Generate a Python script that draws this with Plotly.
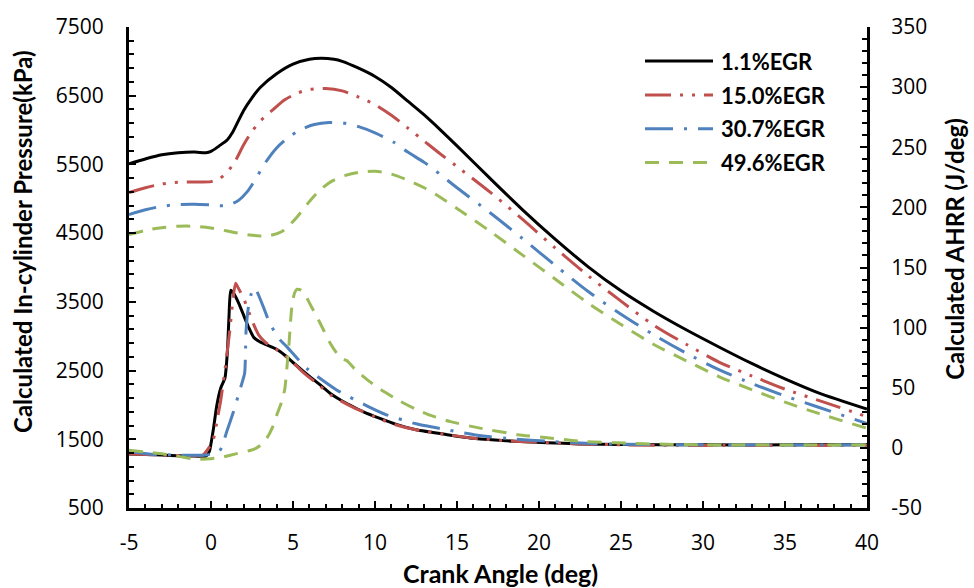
import plotly.graph_objects as go

# ---- Crank angle grids and in-cylinder pressure (kPa) ----
ca_p_01 = [-5, -4, -3, -2, -1, -0.3, 0, 0.5, 1, 1.3, 2, 2.5, 3, 4, 5, 6, 6.7, 7.5, 8, 9, 10,
           11, 12, 13, 14, 15, 17, 19, 21, 23, 25, 27, 29, 31, 33, 35, 37, 40]
p_01 = [5510, 5580, 5640, 5670, 5680, 5670, 5690, 5770, 5860, 5960, 6290, 6470, 6620, 6820,
        6960, 7030, 7045, 7030, 7000, 6900, 6780, 6620, 6420, 6220, 6000, 5770, 5300, 4840,
        4410, 4010, 3660, 3360, 3090, 2840, 2600, 2380, 2180, 1940]

ca_p_15 = [-5, -4, -3, -2, -1, 0, 0.5, 1, 1.5, 2, 2.5, 3, 3.8, 4.5, 5.3, 6, 7, 8, 9, 10, 11,
           12, 13, 14, 15, 17, 19, 21, 23, 25, 27, 29, 31, 33, 35, 37, 40]
p_15 = [5090, 5160, 5215, 5240, 5245, 5250, 5290, 5390, 5560, 5790, 5980, 6130, 6300, 6440,
        6540, 6590, 6605, 6570, 6480, 6370, 6215, 6030, 5840, 5650, 5470, 5100, 4700, 4280,
        3880, 3510, 3160, 2880, 2620, 2420, 2230, 2070, 1830]

ca_p_31 = [-5, -4, -3, -2, -1, 0, 0.8, 1.3, 1.7, 2.2, 2.6, 3.3, 4, 4.7, 5.5, 6.3, 7.2, 8, 9,
           10, 11.2, 12, 13, 14, 15, 17, 19, 21, 23, 25, 27, 29, 31, 33, 35, 37, 40]
p_31 = [4770, 4840, 4890, 4915, 4920, 4910, 4900, 4930, 4980, 5100, 5240, 5520, 5740, 5890,
        6010, 6080, 6110, 6105, 6050, 5960, 5815, 5680, 5530, 5350, 5160, 4800, 4420, 4030,
        3650, 3320, 3020, 2750, 2510, 2310, 2130, 1970, 1730]

ca_p_50 = [-5, -4, -3, -2, -1, 0, 1, 2, 3, 3.6, 4.3, 4.8, 5.3, 6, 6.7, 7.4, 8.2, 9, 10, 11,
           12, 13, 14, 15, 17, 19, 21, 23, 25, 27, 29, 31, 33, 35, 37, 40]
p_50 = [4480, 4540, 4580, 4600, 4600, 4575, 4530, 4485, 4460, 4465, 4520, 4620, 4750, 4960,
        5140, 5260, 5340, 5385, 5400, 5360, 5270, 5160, 5020, 4860, 4530, 4180, 3830, 3480,
        3170, 2880, 2640, 2410, 2220, 2040, 1880, 1660]

# ---- Apparent heat release rate (J/deg) ----
ca_q_01 = [-5, -4, -3, -2, -1, -0.3, -0.1, 0.15, 0.35, 0.6, 0.85, 1.0, 1.1, 1.2, 1.4, 1.7,
           2.0, 2.3, 2.6, 3.0, 3.5, 4.0, 4.5, 5.0, 5.6, 6.6, 7.3, 8.0, 8.7, 9.3, 10.3, 11.3,
           12.5, 14.4, 16, 18.5, 20.5, 22.5, 25, 30, 35, 40]
q_01 = [-5, -5.5, -6, -6.5, -6.8, -6.8, -3, 16, 35, 50, 58, 80, 110, 131, 128, 120, 110, 100,
        92, 88, 85, 82, 77, 71, 64, 53, 45, 39, 34, 30, 24.5, 19.5, 15, 11, 8, 5.5, 4.3, 3.3,
        2.8, 2.5, 2.5, 2.5]

ca_q_15 = [-5, -3, -1, -0.5, 0.1, 0.4, 0.6, 0.9, 1.15, 1.35, 1.5, 1.7, 2.0, 2.5, 2.9, 3.3,
           3.7, 4.2, 5.0, 5.6, 6.6, 7.3, 8.0, 8.7, 10.3, 11.3, 12.5, 14.4, 16, 18.5, 22.5, 25,
           30, 40]
q_15 = [-5, -6, -6.5, -6, 5, 25, 40, 70, 98, 125, 137, 132, 124, 106, 94, 88, 84, 80, 71, 63,
        52, 44, 38.5, 33.5, 24, 19, 15, 11, 8, 5.5, 3.3, 2.5, 2, 2]

ca_q_31 = [-5, -3.6, -2, -0.3, 0.5, 0.7, 0.96, 1.37, 1.78, 2.05, 2.14, 2.28, 2.45, 2.6, 2.8,
           3.2, 3.6, 4.2, 4.63, 5.85, 7.68, 9.5, 10.7, 12.5, 14.4, 16.5, 18.5, 20.5, 22.5, 25,
           30, 40]
q_31 = [-3, -5.3, -6, -6, -3, 2, 13.6, 30, 49, 62, 98, 117, 128, 133, 130, 117, 103, 90, 84,
        66, 48, 35, 27.5, 20, 15, 10, 7.4, 5.5, 4, 3, 2.5, 2.5]

ca_q_50 = [-5, -4, -2.9, -1.8, -0.9, 0, 0.6, 1.5, 2.6, 3.0, 3.4, 3.75, 4.0, 4.3, 4.5, 4.65,
           4.75, 4.85, 4.95, 5.1, 5.25, 5.5, 5.75, 6.1, 6.46, 6.9, 7.27, 7.6, 7.9, 8.1, 8.3,
           8.8, 9.5, 10.3, 11.5, 12.5, 13.4, 14.6, 16.4, 18.7, 20.5, 22.5, 26.8, 30, 40]
q_50 = [-2, -3.5, -5, -7.5, -9.5, -9, -8, -5, -1.3, 2, 8, 17, 27, 38, 49, 70, 85, 105, 120,
        129, 132, 131, 127, 118, 109, 97, 87, 80, 75, 73.5, 72.5, 65, 57, 49, 39, 32, 27,
        21.8, 16.4, 11, 8.5, 5.5, 3.3, 2.5, 2.5]

labels = ["1.1%EGR", "15.0%EGR", "30.7%EGR", "49.6%EGR"]
colors = ["#000000", "#C0504D", "#4F81BD", "#9BBB59"]
dashes = ["solid", "26px,9px,3px,9px,3px,9px", "28px,11px,3px,11px", "14px,10px"]

# Axis tick values and their printed labels (plain hyphen for negatives)
x_ticks = [-5, 0, 5, 10, 15, 20, 25, 30, 35, 40]
x_tick_text = ["-5", "0", "5", "10", "15", "20", "25", "30", "35", "40"]
p_ticks = [500, 1500, 2500, 3500, 4500, 5500, 6500, 7500]
p_tick_text = ["500", "1500", "2500", "3500", "4500", "5500", "6500", "7500"]
q_ticks = [-50, 0, 50, 100, 150, 200, 250, 300, 350]
q_tick_text = ["-50", "0", "50", "100", "150", "200", "250", "300", "350"]

pressure = [(ca_p_01, p_01), (ca_p_15, p_15), (ca_p_31, p_31), (ca_p_50, p_50)]
ahrr = [(ca_q_01, q_01), (ca_q_15, q_15), (ca_q_31, q_31), (ca_q_50, q_50)]

W, H = 974, 588
L, R, T, B = 129, 107, 18, 80
TITLE_FONT = "Lato"
TICK_FONT = "Open Sans"

fig = go.Figure()
for (x, y), name, c, d in zip(pressure, labels, colors, dashes):
    fig.add_trace(go.Scatter(x=x, y=y, mode="lines", name=name, showlegend=False,
                             line=dict(color=c, width=3, dash=d, shape="spline", smoothing=0.8)))
for (x, y), name, c, d in zip(ahrr, labels, colors, dashes):
    fig.add_trace(go.Scatter(x=x, y=y, mode="lines", name=name, showlegend=False, yaxis="y2",
                             line=dict(color=c, width=3, dash=d, shape="spline", smoothing=0.5)))

plot_w = W - L - R
plot_h = H - T - B


def px_to_paper(px, py):
    return (px - L) / plot_w, (H - B - py) / plot_h


# Legend drawn as line samples plus bold labels
shapes = []
annotations = []
rows = [52.7, 87.3, 121.7, 156]
for row, name, c, d in zip(rows, labels, colors, dashes):
    x0, y0 = px_to_paper(645, row)
    x1, _ = px_to_paper(713, row)
    shapes.append(dict(type="line", xref="paper", yref="paper", x0=x0, x1=x1, y0=y0, y1=y0,
                       line=dict(color=c, width=3, dash=d)))
    tx, _ = px_to_paper(719, row)
    annotations.append(dict(xref="paper", yref="paper", x=tx, y=y0, text=f"<b>{name}</b>",
                            showarrow=False, xanchor="left", yanchor="middle",
                            font=dict(family=TITLE_FONT, size=22, color="#000000")))

# Axis titles
tx, ty = px_to_paper(23, 237)
annotations.append(dict(xref="paper", yref="paper", x=tx, y=ty, textangle=-90,
                        text="<b>Calculated In-cylinder Pressure(kPa)</b>", showarrow=False,
                        xanchor="center", yanchor="middle",
                        font=dict(family=TITLE_FONT, size=24, color="#000000")))
tx, ty = px_to_paper(955, 244)
annotations.append(dict(xref="paper", yref="paper", x=tx, y=ty, textangle=-90,
                        text="<b>Calculated AHRR (J/deg)</b>", showarrow=False,
                        xanchor="center", yanchor="middle",
                        font=dict(family=TITLE_FONT, size=24, color="#000000")))
tx, ty = px_to_paper(500, 574)
annotations.append(dict(xref="paper", yref="paper", x=tx, y=ty,
                        text="<b>Crank Angle (deg)</b>", showarrow=False,
                        xanchor="center", yanchor="middle",
                        font=dict(family=TITLE_FONT, size=25, color="#000000")))

axis_common = dict(showline=True, linecolor="#000000", linewidth=3, ticks="inside",
                   ticklen=7, tickwidth=2, tickcolor="#000000", showgrid=False,
                   zeroline=False, tickmode="array",
                   tickfont=dict(family=TICK_FONT, size=21, color="#000000"))

fig.update_layout(
    width=W, height=H,
    margin=dict(l=L, r=R, t=T, b=B, pad=0),
    paper_bgcolor="#FFFFFF", plot_bgcolor="#FFFFFF",
    showlegend=False,
    xaxis=dict(range=[-5, 40], tickvals=x_ticks, ticktext=x_tick_text,
               minor=dict(dtick=1, tick0=-5, ticks="inside", ticklen=4, tickwidth=1.5,
                          tickcolor="#000000"),
               ticklabelstandoff=14, **axis_common),
    yaxis=dict(range=[500, 7500], tickvals=p_ticks, ticktext=p_tick_text,
               minor=dict(dtick=200, tick0=500, ticks="inside", ticklen=5, tickwidth=1.5,
                          tickcolor="#000000"),
               ticklabelstandoff=18, **axis_common),
    yaxis2=dict(range=[-50, 350], tickvals=q_ticks, ticktext=q_tick_text,
                overlaying="y", side="right",
                minor=dict(dtick=10, tick0=-50, ticks="inside", ticklen=5, tickwidth=1.5,
                           tickcolor="#000000"),
                ticklabelstandoff=17, **axis_common),
    shapes=shapes,
    annotations=annotations,
)

fig.write_html("out.html")
